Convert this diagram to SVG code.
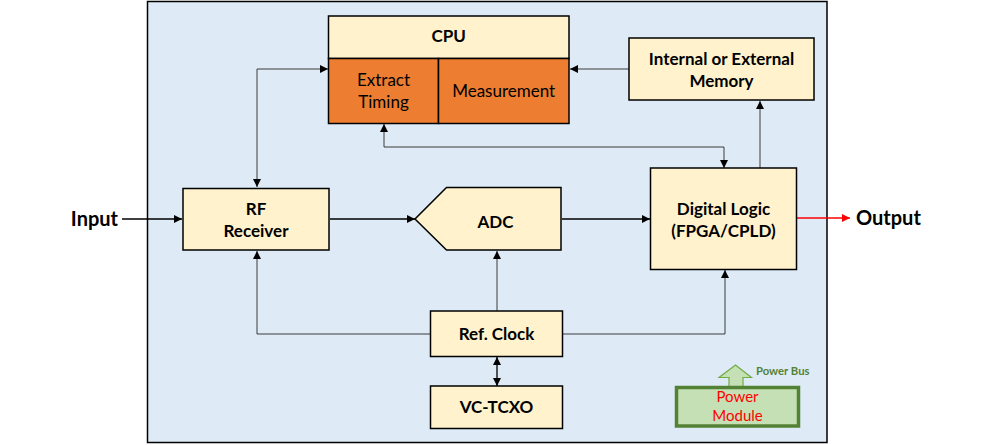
<svg xmlns="http://www.w3.org/2000/svg" width="1000" height="445" viewBox="0 0 1000 445">
<style>
.node{fill:#fff2cc;stroke:#000;stroke-width:1.5}
.org{fill:#ed7d31;stroke:#000;stroke-width:1.5}
.b{font-family:Lato,"Liberation Sans",sans-serif;font-weight:bold;font-size:17px;fill:#000;text-anchor:middle}
.n{font-family:Lato,"Liberation Sans",sans-serif;font-size:17px;fill:#000;text-anchor:middle}
.c{fill:none;stroke:#3a3a3a;stroke-width:1}
.k{fill:none;stroke:#000;stroke-width:1.3}
</style>
<defs>
<marker id="ah" viewBox="0 0 10 10" refX="10" refY="5" markerWidth="8" markerHeight="8" markerUnits="userSpaceOnUse" orient="auto-start-reverse"><path d="M0,0 L10,5 L0,10 z" fill="#000"/></marker>
<marker id="ahr" viewBox="0 0 10 10" refX="10" refY="5" markerWidth="8" markerHeight="8" markerUnits="userSpaceOnUse" orient="auto"><path d="M0,0 L10,5 L0,10 z" fill="#ff0000"/></marker>
</defs>
<rect width="1000" height="445" fill="#fff"/>
<rect id="panel" x="147.5" y="1.5" width="679.5" height="441" fill="#deebf7" stroke="#000" stroke-width="1.5"/>

<g id="connectors">
<path class="c" d="M257,187 V69 H328" marker-start="url(#ah)" marker-end="url(#ah)"/>
<path class="c" d="M629,69 H570" marker-end="url(#ah)"/>
<path class="c" d="M384,124 V147 H724 V168" marker-start="url(#ah)" marker-end="url(#ah)"/>
<path class="c" d="M760,168 V101" marker-end="url(#ah)"/>
<path class="k" d="M122,219 H182" marker-end="url(#ah)"/>
<path class="k" d="M330,219 H415" marker-end="url(#ah)"/>
<path class="k" d="M562,219 H650" marker-end="url(#ah)"/>
<path d="M797,218 H850" fill="none" stroke="#ff0000" stroke-width="1.5" marker-end="url(#ahr)"/>
<path class="c" d="M430,334 H257 V251" marker-end="url(#ah)"/>
<path class="c" d="M497,311 V251" marker-end="url(#ah)"/>
<path class="c" d="M562,334 H725 V270" marker-end="url(#ah)"/>
<path class="k" d="M497,357 V386" marker-start="url(#ah)" marker-end="url(#ah)"/>
</g>

<g id="cpu">
<rect class="node" x="328.5" y="16" width="240.5" height="42.5"/>
<rect class="org" x="328.5" y="58.5" width="110" height="65"/>
<rect class="org" x="438.5" y="58.5" width="130.5" height="65"/>
<text class="b" x="448.7" y="41.5">CPU</text>
<text class="n" x="383.5" y="86">Extract</text>
<text class="n" x="383.5" y="107.5">Timing</text>
<text class="n" x="503.7" y="97">Measurement</text>
</g>

<g id="memory">
<rect class="node" x="629" y="38" width="185" height="62"/>
<text class="b" x="721.5" y="64.5">Internal or External</text>
<text class="b" x="721.5" y="87">Memory</text>
</g>

<g id="rf">
<rect class="node" x="183" y="188.5" width="146" height="61.5"/>
<text class="b" x="256" y="215">RF</text>
<text class="b" x="256" y="237">Receiver</text>
</g>

<g id="adc">
<path class="node" d="M446.5,187.5 H561 V250 H446.5 L415,219 Z"/>
<text class="b" x="495.5" y="227.5">ADC</text>
</g>

<g id="digital">
<rect class="node" x="650.5" y="168" width="146" height="101.5"/>
<text class="b" x="723.5" y="214.5">Digital Logic</text>
<text class="b" x="723.5" y="237">(FPGA/CPLD)</text>
</g>

<g id="refclock">
<rect class="node" x="430.5" y="311" width="132" height="45.5"/>
<text class="b" x="496.5" y="339.5">Ref. Clock</text>
</g>

<g id="vctcxo">
<rect class="node" x="430.5" y="386" width="132" height="42.5"/>
<text class="b" x="496.5" y="412.5">VC-TCXO</text>
</g>

<g id="power">
<path d="M729,387 V377.5 H719 L735.5,365 L751.5,377.5 H743 V387" fill="#c5e0b4" stroke="#70ad47" stroke-width="1.2"/>
<rect x="676.5" y="387.5" width="122" height="38.5" fill="#c5e0b4" stroke="#548235" stroke-width="3.5"/>
<text x="737.5" y="402" font-family="Lato,'Liberation Sans',sans-serif" font-size="15" fill="#ff0000" text-anchor="middle">Power</text>
<text x="737.5" y="421" font-family="Lato,'Liberation Sans',sans-serif" font-size="15" fill="#ff0000" text-anchor="middle">Module</text>
<text x="756" y="374.5" font-family="Lato,'Liberation Sans',sans-serif" font-size="11.3" font-weight="bold" fill="#548235">Power Bus</text>
</g>

<g id="io">
<text x="118" y="226" font-family="Lato,'Liberation Sans',sans-serif" font-size="20" font-weight="bold" text-anchor="end">Input</text>
<text x="856" y="225" font-family="Lato,'Liberation Sans',sans-serif" font-size="20" font-weight="bold">Output</text>
</g>
</svg>
